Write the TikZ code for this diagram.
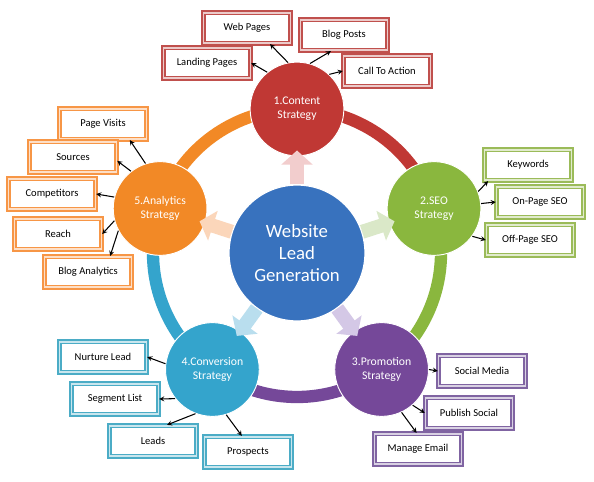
\documentclass[tikz,border=0pt]{standalone}
\usepackage{fontspec}
\setmainfont{Carlito}
\usetikzlibrary{arrows.meta}
\definecolor{redc}{RGB}{192,56,52}
\definecolor{greenc}{RGB}{138,183,62}
\definecolor{purplec}{RGB}{117,72,153}
\definecolor{tealc}{RGB}{52,164,204}
\definecolor{orangec}{RGB}{242,137,38}
\definecolor{bluec}{RGB}{56,114,190}
\definecolor{redb}{RGB}{192,80,77}
\definecolor{greenb}{RGB}{155,187,89}
\definecolor{purpleb}{RGB}{128,100,162}
\definecolor{tealb}{RGB}{75,172,198}
\definecolor{orangeb}{RGB}{247,150,70}
\definecolor{pinkc}{RGB}{242,205,205}
\definecolor{lgreenc}{RGB}{218,232,200}
\definecolor{lpurplec}{RGB}{212,200,230}
\definecolor{lbluec}{RGB}{185,222,238}
\definecolor{peachc}{RGB}{251,214,186}
\begin{document}
\begin{tikzpicture}[>=stealth,x=0.03cm,y=0.03cm,
    ball/.style={circle,minimum size=80pt,inner sep=0pt,text=white,align=center,
      font=\fontsize{10}{12}\selectfont,draw=white,line width=0.8pt},
    leaf/.style={draw=#1,fill=white,double=#1!30!white,double distance=1.4pt,line width=1.5pt,
      minimum width=74pt,minimum height=26pt,inner sep=0pt,font=\fontsize{9}{10}\selectfont},
    link/.style={->,line width=0.9pt},
    fat/.style={draw=#1,line width=12pt,-{Triangle[length=12pt,width=26pt]},shorten >=-5pt}]
  \fill[white] (0,0) rectangle (594,482);
  % ring
  \foreach \a/\col in {90/redc,18/greenc,-54/purplec,-126/tealc,162/orangec}
    \draw[line width=10.5pt,\col] (297,229) ++(\a:144) arc[start angle=\a,end angle=\a-72,radius=144];
  % hub and steps
  \node[circle,fill=bluec,draw=white,line width=1pt,minimum size=116pt,inner sep=0pt,text=white,
    align=center,font=\fontsize{16}{19}\selectfont] (hub) at (297,229) {Website\\Lead\\Generation};
  \node[ball,fill=redc] (content) at (297,373) {1.Content\\Strategy};
  \node[ball,fill=greenc] (seo) at (434,273.5) {2.SEO\\Strategy};
  \node[ball,fill=purplec] (promo) at (381.6,112.5) {3.Promotion\\Strategy};
  \node[ball,fill=tealc] (conv) at (212.4,112.5) {4.Conversion\\Strategy};
  \node[ball,fill=orangec] (analytics) at (160.1,273.5) {5.Analytics\\Strategy};
  \draw[fat=pinkc] (hub) -- (content);
  \draw[fat=lgreenc] (hub) -- (seo);
  \draw[fat=lpurplec] (hub) -- (promo);
  \draw[fat=lbluec] (hub) -- (conv);
  \draw[fat=peachc] (hub) -- (analytics);
  % content
  \node[leaf=redb] (wp) at (247,454) {Web Pages};
  \node[leaf=redb] (bp) at (344,447) {Blog Posts};
  \node[leaf=redb] (lp) at (207,419) {Landing Pages};
  \node[leaf=redb] (cta) at (387,411) {Call To Action};
  \draw[link] (content.129) -- (lp.east);
  \draw[link] (content.101) -- (wp.-35);
  \draw[link] (content.74) -- (bp.231);
  \draw[link] (content.47) -- (cta.west);
  % seo
  \node[leaf=greenb] (kw) at (528,317) {Keywords};
  \node[leaf=greenb] (onp) at (540,280) {On-Page SEO};
  \node[leaf=greenb] (offp) at (530,242) {Off-Page SEO};
  \draw[link] (seo.21) -- (kw.202);
  \draw[link] (seo.6) -- (onp.west);
  \draw[link] (seo.-36) -- (offp.west);
  % promotion
  \node[leaf=purpleb] (sm) at (482,111) {Social Media};
  \node[leaf=purpleb] (ps) at (469,69) {Publish Social};
  \node[leaf=purpleb] (me) at (418,33) {Manage Email};
  \draw[link] (promo.0) -- (sm.west);
  \draw[link] (promo.-49) -- (ps.west);
  \draw[link] (promo.-65) -- (me.95);
  % conversion
  \node[leaf=tealb] (nl) at (103,125) {Nurture Lead};
  \node[leaf=tealb] (sl) at (115,83) {Segment List};
  \node[leaf=tealb] (ld) at (153,41) {Leads};
  \node[leaf=tealb] (pr) at (248,30) {Prospects};
  \draw[link] (conv.173) -- (nl.east);
  \draw[link] (conv.218) -- (sl.east);
  \draw[link] (conv.249) -- (ld.49);
  \draw[link] (conv.287) -- (pr.111);
  % analytics
  \node[leaf=orangeb] (pv) at (103,358) {Page Visits};
  \node[leaf=orangeb] (so) at (73,325) {Sources};
  \node[leaf=orangeb] (co) at (52,288) {Competitors};
  \node[leaf=orangeb] (re) at (58,248) {Reach};
  \node[leaf=orangeb] (ba) at (88,210) {Blog Analytics};
  \draw[link] (analytics.108) -- (pv.-31);
  \draw[link] (analytics.128) -- (so.-5);
  \draw[link] (analytics.166) -- (co.east);
  \draw[link] (analytics.195) -- (re.east);
  \draw[link] (analytics.208) -- (ba.36);
\end{tikzpicture}
\end{document}
